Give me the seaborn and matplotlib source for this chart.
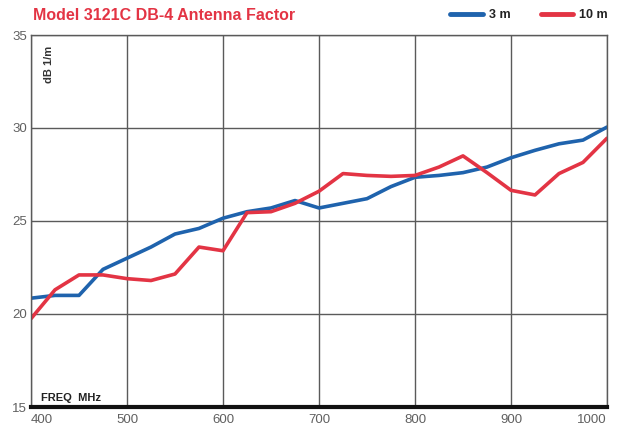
import matplotlib
matplotlib.use("Agg")
import matplotlib.pyplot as plt
import seaborn as sns
import pandas as pd
from matplotlib.lines import Line2D

freq_mhz = [400, 425, 450, 475, 500, 525, 550, 575, 600, 625, 650, 675, 700,
            725, 750, 775, 800, 825, 850, 875, 900, 925, 950, 975, 1000]
af_3m = [20.85, 21.0, 21.0, 22.4, 23.0, 23.6, 24.3, 24.6, 25.15, 25.5, 25.7, 26.1, 25.7,
         25.95, 26.2, 26.85, 27.35, 27.45, 27.6, 27.9, 28.4, 28.8, 29.15, 29.35, 30.05]
af_10m = [19.75, 21.3, 22.1, 22.1, 21.9, 21.8, 22.15, 23.6, 23.4, 25.45, 25.5, 25.95, 26.6,
          27.55, 27.45, 27.4, 27.45, 27.9, 28.5, 27.6, 26.65, 26.4, 27.55, 28.15, 29.45]
series_names = ["3 m", "10 m"]
x_ticks = [400, 500, 600, 700, 800, 900, 1000]
y_ticks = [15, 20, 25, 30, 35]
title = "Model 3121C DB-4 Antenna Factor"

df = pd.DataFrame({
    "freq": freq_mhz * 2,
    "af": af_3m + af_10m,
    "series": [series_names[0]] * len(freq_mhz) + [series_names[1]] * len(freq_mhz),
})

sns.set_theme(style="white")
plt.rcParams["font.family"] = ["Liberation Sans", "DejaVu Sans"]

blue = "#1f63ad"
red = "#e33444"
fig = plt.figure(figsize=(6.29, 4.37), dpi=100)
ax = fig.add_axes([31 / 629, 30 / 437, 576 / 629, 372 / 437])

sns.lineplot(data=df, x="freq", y="af", hue="series", palette=[blue, red],
             linewidth=2.6, ax=ax, legend=False)

ax.set_xlim(400, 1000)
ax.set_ylim(15, 35)
ax.set_xticks(x_ticks)
ax.set_yticks(y_ticks)
ax.set_xticklabels([str(t) for t in x_ticks])
ax.set_yticklabels([str(t) for t in y_ticks])
ax.grid(True, color="#5a5a5a", linewidth=1.0)
ax.set_axisbelow(True)
for s in ["left", "right", "top"]:
    ax.spines[s].set_color("#5a5a5a")
    ax.spines[s].set_linewidth(1.0)
ax.spines["bottom"].set_color("#111111")
ax.spines["bottom"].set_linewidth(3.0)
ax.tick_params(axis="both", length=0, labelsize=9.5, colors="#606060")
ax.tick_params(axis="x", pad=5)
ax.tick_params(axis="y", pad=3)
labels = ax.get_xticklabels()
labels[0].set_horizontalalignment("left")
labels[-1].set_horizontalalignment("right")
ax.set_xlabel("")
ax.set_ylabel("")

ax.text(0.022, 0.97, "dB 1/m", transform=ax.transAxes, rotation=90,
        va="top", ha="left", fontsize=8, fontweight="bold", color="#333333")
ax.text(0.018, 0.012, "FREQ  MHz", transform=ax.transAxes,
        va="bottom", ha="left", fontsize=8, fontweight="bold", color="#222222")

fig.text(33 / 629, 1 - 15 / 437, title, color=red, fontsize=11.5, fontweight="bold",
         va="center", ha="left")

handles = [Line2D([], [], color=blue, lw=3.5), Line2D([], [], color=red, lw=3.5)]
leg = fig.legend(handles, series_names, loc="center right",
                 bbox_to_anchor=(608 / 629, 1 - 15 / 437), ncol=2, frameon=False,
                 fontsize=9, handlelength=2.6, columnspacing=2.4, handletextpad=0.5,
                 borderaxespad=0, borderpad=0)
for t in leg.get_texts():
    t.set_fontweight("bold")
    t.set_color("#222222")

fig.savefig("out.png", dpi=100, facecolor="white")
